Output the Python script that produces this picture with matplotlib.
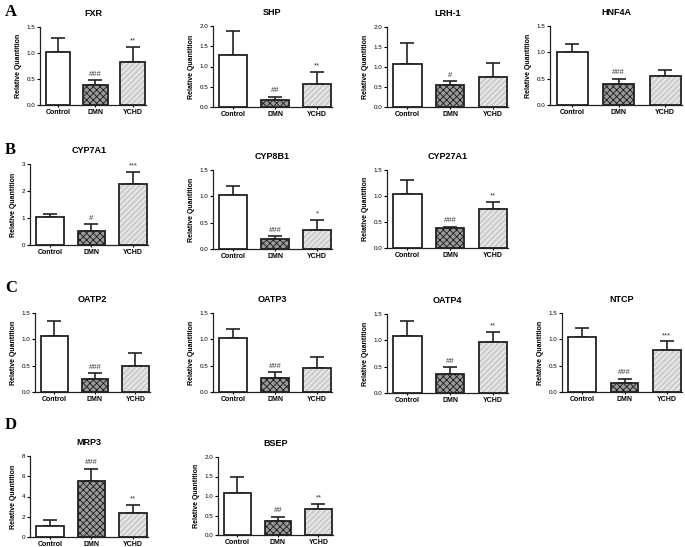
import matplotlib
matplotlib.use("Agg")
import matplotlib.pyplot as plt
import numpy as np

plt.rcParams['font.family'] = ['Liberation Sans', 'DejaVu Sans']
plt.rcParams['hatch.linewidth'] = 0.6

groups = ["Control", "DMN", "YCHD"]

genes = ["FXR", "SHP", "LRH-1", "HNF4A",
         "CYP7A1", "CYP8B1", "CYP27A1",
         "OATP2", "OATP3", "OATP4", "NTCP",
         "MRP3", "BSEP"]

means = {
    "FXR":     [1.02, 0.39, 0.83],
    "SHP":     [1.28, 0.18, 0.58],
    "LRH-1":   [1.08, 0.56, 0.75],
    "HNF4A":   [1.00, 0.39, 0.55],
    "CYP7A1":  [1.02, 0.52, 2.25],
    "CYP8B1":  [1.02, 0.19, 0.37],
    "CYP27A1": [1.04, 0.38, 0.75],
    "OATP2":   [1.07, 0.25, 0.49],
    "OATP3":   [1.03, 0.27, 0.45],
    "OATP4":   [1.08, 0.36, 0.97],
    "NTCP":    [1.04, 0.18, 0.80],
    "MRP3":    [1.10, 5.50, 2.40],
    "BSEP":    [1.07, 0.35, 0.67],
}
errors = {
    "FXR":     [0.27, 0.09, 0.29],
    "SHP":     [0.59, 0.07, 0.28],
    "LRH-1":   [0.52, 0.09, 0.35],
    "HNF4A":   [0.15, 0.11, 0.11],
    "CYP7A1":  [0.11, 0.26, 0.47],
    "CYP8B1":  [0.17, 0.05, 0.19],
    "CYP27A1": [0.27, 0.03, 0.14],
    "OATP2":   [0.27, 0.11, 0.25],
    "OATP3":   [0.17, 0.11, 0.21],
    "OATP4":   [0.28, 0.13, 0.19],
    "NTCP":    [0.18, 0.07, 0.16],
    "MRP3":    [0.55, 1.25, 0.80],
    "BSEP":    [0.42, 0.12, 0.13],
}
marks = {
    "FXR":     ["", "###", "**"],
    "SHP":     ["", "##", "**"],
    "LRH-1":   ["", "#", ""],
    "HNF4A":   ["", "###", ""],
    "CYP7A1":  ["", "#", "***"],
    "CYP8B1":  ["", "###", "*"],
    "CYP27A1": ["", "###", "**"],
    "OATP2":   ["", "###", ""],
    "OATP3":   ["", "###", ""],
    "OATP4":   ["", "##", "**"],
    "NTCP":    ["", "###", "***"],
    "MRP3":    ["", "###", "**"],
    "BSEP":    ["", "##", "**"],
}
yticks = {
    "FXR": [0.0, 0.5, 1.0, 1.5], "SHP": [0.0, 0.5, 1.0, 1.5, 2.0],
    "LRH-1": [0.0, 0.5, 1.0, 1.5, 2.0], "HNF4A": [0.0, 0.5, 1.0, 1.5],
    "CYP7A1": [0, 1, 2, 3], "CYP8B1": [0.0, 0.5, 1.0, 1.5],
    "CYP27A1": [0.0, 0.5, 1.0, 1.5], "OATP2": [0.0, 0.5, 1.0, 1.5],
    "OATP3": [0.0, 0.5, 1.0, 1.5], "OATP4": [0.0, 0.5, 1.0, 1.5],
    "NTCP": [0.0, 0.5, 1.0, 1.5], "MRP3": [0, 2, 4, 6, 8],
    "BSEP": [0.0, 0.5, 1.0, 1.5, 2.0],
}

# layout in pixels: x0, x1, y_top, y_bottom
layout = {
    "FXR": (40, 146, 27, 105), "SHP": (213, 332, 26, 107),
    "LRH-1": (387, 508, 27, 107), "HNF4A": (550, 682, 26, 105),
    "CYP7A1": (30, 148, 164, 245), "CYP8B1": (213, 332, 170, 249),
    "CYP27A1": (387, 508, 170, 248),
    "OATP2": (35, 150, 313, 392), "OATP3": (213, 332, 313, 392),
    "OATP4": (387, 508, 314, 393), "NTCP": (562, 682, 313, 392),
    "MRP3": (30, 148, 456, 537), "BSEP": (218, 333, 457, 535),
}

W, H = 685, 547
fig = plt.figure(figsize=(W / 100, H / 100), dpi=100)

face = ["white", "#9a9a9a", "#cfcfcf"]
hatch = [None, "xxxxx", "//////"]
hcol = [None, "#1a1a1a", "white"]

for g in genes:
    x0, x1, yt, yb = layout[g]
    ax = fig.add_axes([x0 / W, (H - yb) / H, (x1 - x0) / W, (yb - yt) / H])
    x = np.arange(len(groups))
    m = means[g]
    e = errors[g]
    for i in range(3):
        ax.bar(x[i], m[i], width=0.66, color=face[i], hatch=hatch[i],
               edgecolor=hcol[i] if hcol[i] else "black", linewidth=0, zorder=2)
        ax.bar(x[i], m[i], width=0.66, fill=False, edgecolor="#222222",
               linewidth=1.3, zorder=3)
        ax.errorbar(x[i], m[i], yerr=[[0], [e[i]]], fmt="none", ecolor="#222222",
                    elinewidth=1.2, capsize=5, capthick=1.2, zorder=1)
        if marks[g][i]:
            ax.text(x[i], m[i] + e[i] + 0.03 * yticks[g][-1], marks[g][i],
                    ha="center", va="bottom", fontsize=5.5, color="#333333")
    ax.set_xlim(-0.48, 2.36)
    ax.set_ylim(yticks[g][0], yticks[g][-1])
    ax.set_yticks(yticks[g])
    if isinstance(yticks[g][1], float):
        ax.set_yticklabels([f"{v:.1f}" for v in yticks[g]])
    ax.set_xticks(x)
    ax.set_xticklabels(groups, fontsize=5, fontweight="bold")
    ax.tick_params(axis="y", labelsize=4.5, length=2.5, width=0.8, pad=1)
    ax.tick_params(axis="x", length=1.5, width=0.8, pad=1.5)
    for s in ["top", "right"]:
        ax.spines[s].set_visible(False)
    for s in ["left", "bottom"]:
        ax.spines[s].set_linewidth(0.9)
        ax.spines[s].set_color("#222222")
    ax.set_ylabel("Relative Quantition", fontsize=5, fontweight="bold", labelpad=3)
    ax.set_title(g, fontsize=6.5, fontweight="bold", pad=8)

letters = [("A", 12), ("B", 150), ("C", 288), ("D", 425)]
for t, y in letters:
    fig.text(5 / W, 1 - y / H, t, fontsize=12, fontweight="bold",
             family="Liberation Serif", va="center", ha="left")

fig.savefig("out.png", dpi=100)
